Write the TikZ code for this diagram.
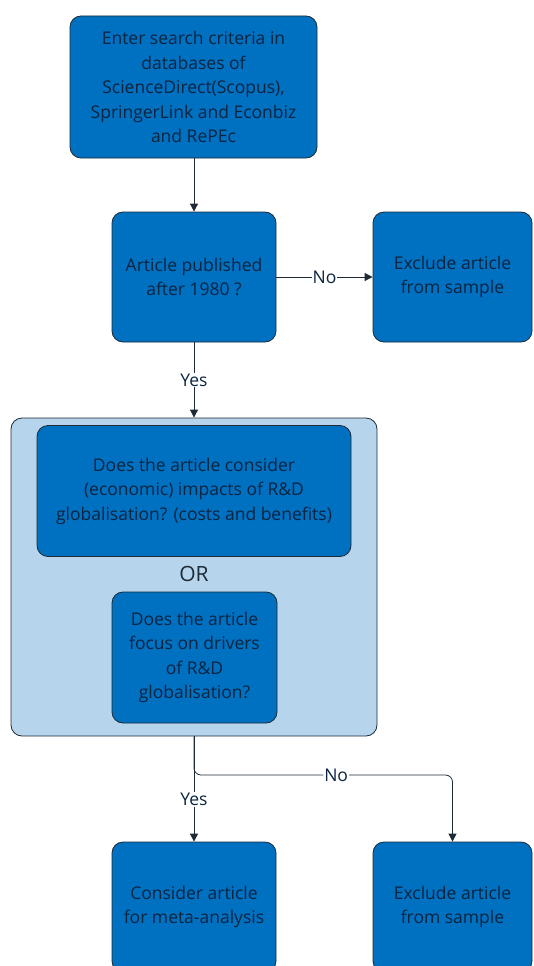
\documentclass[tikz,border=0pt]{standalone}
\usepackage{fontspec}
\setmainfont{Open Sans}
\usetikzlibrary{arrows.meta}
\definecolor{boxblue}{HTML}{0070C0}
\definecolor{paleblue}{HTML}{B6D4EC}
\definecolor{edgeink}{HTML}{1E2A36}
\definecolor{textink}{HTML}{0B2440}
\begin{document}
\begin{tikzpicture}[x=1pt,y=-1pt,
  every node/.style={font=\fontsize{17.5}{24.5}\selectfont, text=textink},
  stepbox/.style={draw=edgeink, line width=0.8pt, fill=boxblue, rounded corners=11pt,
    align=center, inner sep=0pt},
  groupbox/.style={draw=edgeink, line width=0.8pt, fill=paleblue, rounded corners=11pt, inner sep=0pt},
  arr/.style={draw=edgeink, line width=0.8pt, -{Triangle[length=8pt,width=8pt]}},
  lbl/.style={fill=white, inner sep=1pt}]
\useasboundingbox (0,0) rectangle (534,966);
\clip (0,0) rectangle (534,966);

% search step
\node[stepbox, minimum width=247pt, minimum height=142pt] (search) at (193.5,87)
  {Enter search criteria in\\databases of\\ScienceDirect(Scopus),\\SpringerLink and Econbiz\\and RePEc};

% year check and exclusion
\node[stepbox, minimum width=164pt, minimum height=130pt] (year) at (194,277)
  {Article published\\after 1980 ?};
\node[stepbox, minimum width=159pt, minimum height=130pt] (excl1) at (452.5,277)
  {Exclude article\\from sample};

% topic check group
\node[groupbox, minimum width=366pt, minimum height=318pt] (group) at (194,577) {};
\node[stepbox, minimum width=314pt, minimum height=131pt] (impacts) at (194,491)
  {Does the article consider\\(economic) impacts of R\&D\\globalisation? (costs and benefits)};
\node[font=\fontsize{21}{24}\selectfont, text=edgeink] (or) at (194,574) {OR};
\node[stepbox, minimum width=165pt, minimum height=131pt] (drivers) at (194.5,657.5)
  {Does the article\\focus on drivers\\of R\&D\\globalisation?};

% outcomes
\node[stepbox, minimum width=164pt, minimum height=130pt] (meta) at (194,907)
  {Consider article\\for meta-analysis};
\node[stepbox, minimum width=159pt, minimum height=130pt] (excl2) at (452.5,907)
  {Exclude article\\from sample};

% connectors
\draw[arr] (search.south -| year.north) -- (year.north);
\draw[arr] (year.east) -- node[lbl] {No} (excl1.west);
\draw[arr] (year.south) -- node[lbl] {Yes} (group.north -| year.south);
\draw[arr] (group.south -| meta.north) -- node[lbl, pos=0.6] {Yes} (meta.north);
\coordinate (split) at (194,775);
\draw[arr, rounded corners=7pt] (group.south -| split) -- (split) -- node[lbl, pos=0.55] {No} (split -| excl2.north) -- (excl2.north);
\end{tikzpicture}
\end{document}
